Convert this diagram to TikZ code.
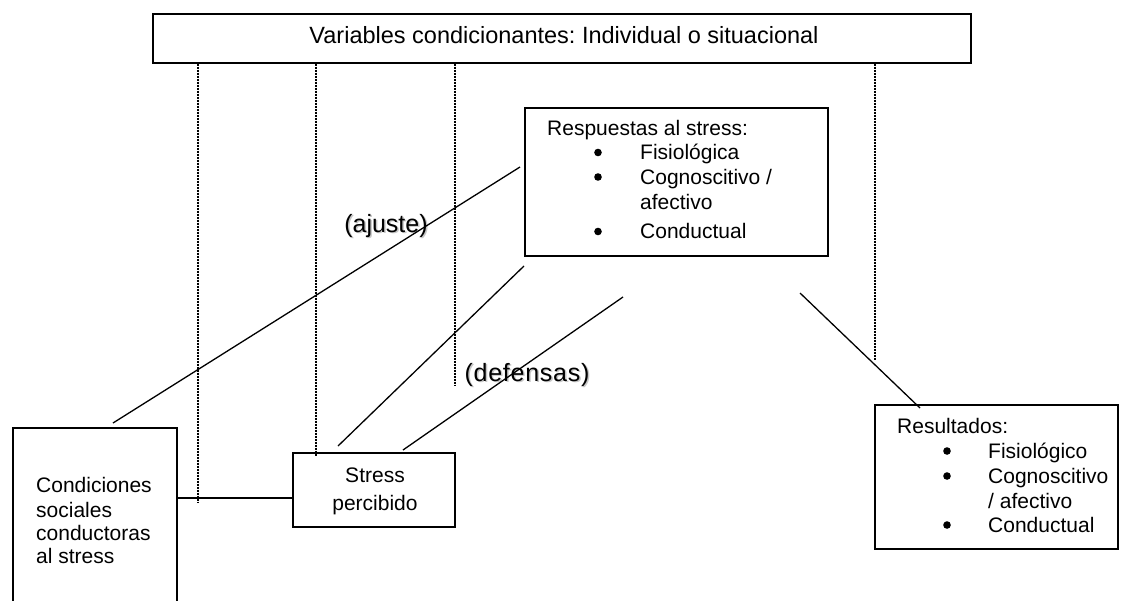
\documentclass[tikz,border=0pt]{standalone}
\usepackage{fontspec}
\setmainfont{Liberation Sans}
\frenchspacing
\begin{document}
\begin{tikzpicture}[x=1pt,y=-1pt,
  box/.style={draw, line width=1.6pt, rectangle, inner sep=0pt, anchor=north west},
  txt/.style={inner sep=0pt, anchor=base west, font=\fontsize{21}{25}\selectfont},
  ctxt/.style={inner sep=0pt, anchor=base, font=\fontsize{21}{25}\selectfont},
  dot/.style={circle, fill, inner sep=0pt, minimum size=7.6pt},
  link/.style={line width=1.3pt},
  dotline/.style={line width=1.3pt, dash pattern=on 2pt off 1pt},
  tag/.style={inner sep=0pt, font=\fontsize{25}{28}\selectfont}
]
\useasboundingbox (0,0) rectangle (1121,600);
\fill[white] (0,0) rectangle (1121,600);

% boxes
\node[box, minimum width=818pt, minimum height=49pt] (top) at (152,13) {};
\node[box, minimum width=303pt, minimum height=148pt] (resp) at (524,107) {};
\node[box, minimum width=164pt, minimum height=200pt] (cond) at (12,427) {};
\node[box, minimum width=162pt, minimum height=74pt] (stress) at (292,452) {};
\node[box, minimum width=243pt, minimum height=144pt] (res) at (874,404) {};

% texts
\node[inner sep=0pt, anchor=base, font=\fontsize{23.5}{28}\selectfont] (toptext) at (564,43) {Variables condicionantes: Individual o situacional};

\node[txt] (r0) at (547,135) {Respuestas al stress:};
\node[dot] (rb1) at (598,152.5) {};
\node[txt] (r1) at (640,159.5) {Fisiológica};
\node[dot] (rb2) at (598,177) {};
\node[txt] (r2) at (640,184) {Cognoscitivo /};
\node[txt] (r3) at (640,209) {afectivo};
\node[dot] (rb4) at (598,231.5) {};
\node[txt] (r4) at (640,238.5) {Conductual};

\node[txt] (c1) at (36,492) {Condiciones};
\node[txt] (c2) at (36,517) {sociales};
\node[txt] (c3) at (36,540) {conductoras};
\node[txt] (c4) at (36,563) {al stress};

\node[ctxt] (s1) at (375,482) {Stress};
\node[ctxt] (s2) at (375,510) {percibido};

\node[txt] (o0) at (897,433) {Resultados:};
\node[dot] (ob1) at (947,451) {};
\node[txt] (o1) at (988,458) {Fisiológico};
\node[dot] (ob2) at (947,476) {};
\node[txt] (o2) at (988,483) {Cognoscitivo};
\node[txt] (o3) at (988,508) {/ afectivo};
\node[dot] (ob4) at (947,525) {};
\node[txt] (o4) at (988,532) {Conductual};

% labels with a soft shadow
\node[tag, text=black!22] (ajs) at (387.5,227.5) {(ajuste)};
\node[tag] (aj) at (386,226) {(ajuste)};
\node[tag, text=black!22] (dfs) at (528.5,376.5) {\addfontfeature{LetterSpace=3}(defensas)};
\node[tag] (df) at (527,375) {\addfontfeature{LetterSpace=3}(defensas)};

% free ends of the connectors
\coordinate (d1) at (198,502);
\coordinate (d2) at (316,456);
\coordinate (d3) at (455,386);
\coordinate (d4) at (875,360);
\coordinate (h) at (0,498);
\coordinate (a1) at (113,423);
\coordinate (a2) at (520,167);
\coordinate (b1) at (338,446);
\coordinate (b2) at (524,266);
\coordinate (e1) at (403,450);
\coordinate (e2) at (623,297);
\coordinate (f1) at (800,293);
\coordinate (f2) at (920,408);

% conditioning variables
\draw[dotline] (top.south -| d1) -- (d1);
\draw[dotline] (top.south -| d2) -- (d2);
\draw[dotline] (top.south -| d3) -- (d3);
\draw[dotline] (top.south -| d4) -- (d4);

% links
\draw[link] (cond.east |- h) -- (stress.west |- h);
\draw[link] (a1) -- (a2);
\draw[link] (b1) -- (b2);
\draw[link] (e1) -- (e2);
\draw[link] (f1) -- (f2);
\end{tikzpicture}
\end{document}
